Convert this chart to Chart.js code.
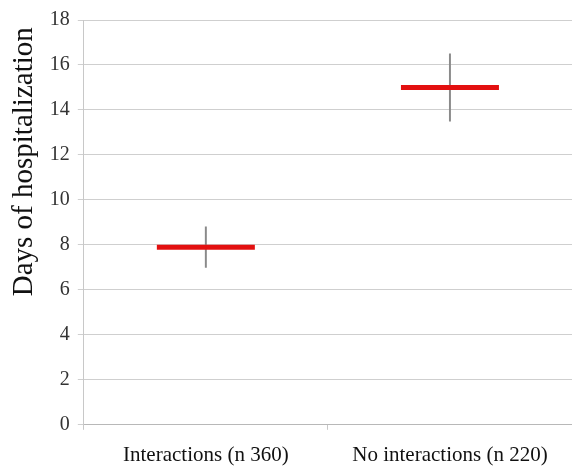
<!DOCTYPE html>
<html>
<head>
<meta charset="utf-8">
<script src="https://cdn.jsdelivr.net/npm/chart.js@4"></script>
<style>
  html, body { margin: 0; padding: 0; background: #fff; }
  #wrap { width: 572px; height: 467px; }
</style>
</head>
<body>
<div id="wrap"><canvas id="chart"></canvas></div>
<script>
const categories = ['Interactions (n 360)', 'No interactions (n 220)'];
const meanDays = [7.9, 15.0];   // red marks
const lowDays = [7.0, 13.5];    // bottom of whisker
const highDays = [8.8, 16.5];   // top of whisker
const yMin = 0, yMax = 18, yStep = 2;

const whiskers = lowDays.map((lo, i) => [lo, highDays[i]]);
const serif = '"Liberation Serif", "Times New Roman", serif';

new Chart(document.getElementById('chart'), {
  data: {
    labels: categories,
    datasets: [
      {
        type: 'line',
        data: meanDays,
        showLine: false,
        pointStyle: 'line',
        pointRadius: 49,
        pointHoverRadius: 49,
        pointBorderWidth: 5,
        pointBorderColor: '#e31010',
        order: 0
      },
      {
        type: 'bar',
        data: whiskers,
        backgroundColor: '#8a8a8a',
        barThickness: 1.3,
        grouped: false,
        order: 1
      }
    ]
  },
  options: {
    responsive: true,
    maintainAspectRatio: false,
    animation: false,
    layout: { autoPadding: false, padding: { top: 6, right: 0, bottom: -14, left: 7 } },
    plugins: { legend: { display: false }, tooltip: { enabled: false } },
    scales: {
      x: {
        offset: true,
        grid: { drawOnChartArea: false, color: '#c8c8c8', tickLength: 5, offset: true },
        border: { color: '#b8b8b8' },
        ticks: { color: '#111', font: { family: serif, size: 21 }, padding: 13, maxRotation: 0 }
      },
      y: {
        min: yMin,
        max: yMax,
        ticks: { stepSize: yStep, color: '#333', font: { family: serif, size: 20 }, padding: 8 },
        grid: { color: '#cfcfcf', tickLength: 6 },
        border: { color: '#c8c8c8' },
        title: {
          display: true, text: 'Days of hospitalization ', align: 'end', color: '#111',
          font: { family: serif, size: 29 }, padding: { top: 0, bottom: 0 }
        }
      }
    }
  }
});
</script>
</body>
</html>
